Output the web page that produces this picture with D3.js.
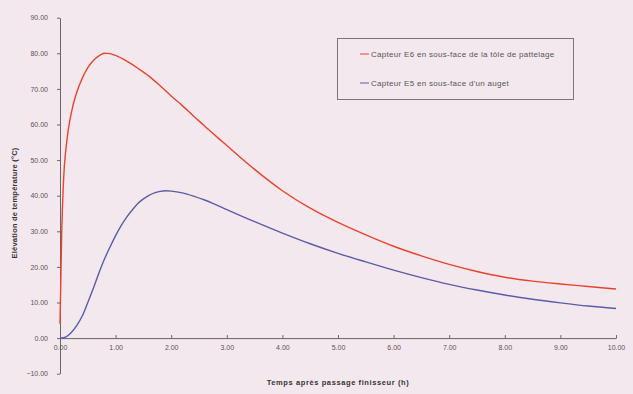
<!DOCTYPE html>
<html>
<head>
<meta charset="utf-8">
<script src="https://cdn.jsdelivr.net/npm/d3@7"></script>
<style>
  body { margin: 0; background: #f4e8ef; }
  svg { display: block; font-family: "Liberation Sans", Arial, sans-serif; }
</style>
</head>
<body>
<div id="chart"></div>
<script>
"use strict";
// time after finisher pass (h)
var redTimes = [0, 0.03, 0.06, 0.12, 0.2, 0.3, 0.4, 0.5, 0.6, 0.7, 0.8, 0.9, 1.0, 1.2, 1.4, 1.6, 1.8, 2.0, 2.2, 2.4, 2.6, 2.8, 3.0, 3.5, 4.0, 4.5, 5.0, 5.5, 6.0, 6.5, 7.0, 7.5, 8.0, 8.5, 9.0, 9.5, 10.0];
var redValues = [4, 29, 43, 55, 63, 69, 73, 76, 78, 79.3, 80, 79.9, 79.4, 77.8, 75.8, 73.6, 70.9, 68.0, 65.3, 62.4, 59.6, 56.8, 54.1, 47.4, 41.4, 36.5, 32.5, 29.0, 25.8, 23.1, 20.7, 18.7, 17.1, 16.0, 15.2, 14.5, 13.8];
var blueTimes = [0, 0.1, 0.2, 0.3, 0.4, 0.5, 0.6, 0.7, 0.8, 0.9, 1.0, 1.1, 1.2, 1.3, 1.4, 1.5, 1.6, 1.7, 1.8, 1.9, 2.0, 2.2, 2.4, 2.6, 2.8, 3.0, 3.5, 4.0, 4.5, 5.0, 5.5, 6.0, 6.5, 7.0, 7.5, 8.0, 8.5, 9.0, 9.5, 10.0];
var blueValues = [0, 0.3, 1.5, 3.5, 6.2, 10, 14, 18.3, 22.2, 25.6, 28.8, 31.6, 34.0, 36.0, 37.8, 39.1, 40.1, 40.8, 41.2, 41.4, 41.3, 40.8, 39.9, 38.8, 37.5, 36.1, 32.7, 29.5, 26.5, 23.8, 21.4, 19.1, 17.0, 15.1, 13.5, 12.1, 10.9, 9.9, 9.0, 8.3];
var seriesNames = ["Capteur E6 en sous-face de la tôle de pattelage", "Capteur E5 en sous-face d'un auget"];
var seriesColors = ["#e8442c", "#5b5ca8"];
var xTicks = [0, 1, 2, 3, 4, 5, 6, 7, 8, 9, 10];
var yTicks = [-10, 0, 10, 20, 30, 40, 50, 60, 70, 80, 90];

var width = 633, height = 394;
var svg = d3.select("#chart").append("svg")
    .attr("width", width)
    .attr("height", height);

var x = d3.scaleLinear().domain([0, 10]).range([60, 616]);
var y = d3.scaleLinear().domain([-10, 90]).range([373.7, 17.7]);

// y axis
var yAxis = svg.append("g")
    .attr("transform", "translate(" + x(0) + ",0)")
    .call(d3.axisLeft(y).tickValues(yTicks).tickFormat(d3.format(".2f")).tickSizeInner(3).tickSizeOuter(0).tickPadding(9));
yAxis.select(".domain").attr("stroke", "#666");
yAxis.selectAll(".tick line").attr("stroke", "#666");
yAxis.selectAll("text").attr("fill", "#555").style("font-size", "7px");

// x axis drawn at y = 0
var xAxis = svg.append("g")
    .attr("transform", "translate(0," + y(0) + ")")
    .call(d3.axisBottom(x).tickValues(xTicks).tickFormat(d3.format(".2f")).tickSizeInner(-3).tickSizeOuter(0).tickPadding(7));
xAxis.select(".domain").attr("stroke", "#666");
xAxis.selectAll(".tick line").attr("stroke", "#666");
xAxis.selectAll("text").attr("fill", "#555").style("font-size", "7px");

// axis titles
svg.append("text")
    .attr("x", 338).attr("y", 385)
    .attr("text-anchor", "middle")
    .attr("fill", "#333")
    .style("font-size", "7.5px").style("font-weight", "bold")
    .style("letter-spacing", "0.6px")
    .text("Temps après passage finisseur (h)");
svg.append("text")
    .attr("transform", "translate(17,203) rotate(-90)")
    .attr("text-anchor", "middle")
    .attr("fill", "#333")
    .style("font-size", "7.5px").style("font-weight", "bold")
    .style("letter-spacing", "0.2px")
    .text("Elévation de température (°C)");

// curves
var series = [
    redTimes.map(function (t, i) { return [t, redValues[i]]; }),
    blueTimes.map(function (t, i) { return [t, blueValues[i]]; })
];
var line = d3.line()
    .x(function (d) { return x(d[0]); })
    .y(function (d) { return y(d[1]); })
    .curve(d3.curveMonotoneX);
svg.append("g").selectAll("path")
    .data(series)
    .enter().append("path")
    .attr("d", line)
    .attr("fill", "none")
    .attr("stroke", function (d, i) { return seriesColors[i]; })
    .attr("stroke-width", 1.4);

// legend
var legend = svg.append("g");
legend.append("rect")
    .attr("x", 337.5).attr("y", 38.5)
    .attr("width", 236).attr("height", 61)
    .attr("fill", "none")
    .attr("stroke", "#777")
    .attr("stroke-width", 1);
var items = legend.selectAll("g.item")
    .data(seriesNames)
    .enter().append("g")
    .attr("class", "item")
    .attr("transform", function (d, i) { return "translate(360," + (54 + i * 29) + ")"; });
items.append("line")
    .attr("x1", 0).attr("x2", 9)
    .attr("stroke", function (d, i) { return seriesColors[i]; })
    .attr("stroke-width", 1);
items.append("text")
    .attr("x", 11).attr("dy", "0.35em")
    .attr("fill", "#555")
    .style("font-size", "8px")
    .style("letter-spacing", "0.3px")
    .text(function (d) { return d; });
</script>
</body>
</html>
